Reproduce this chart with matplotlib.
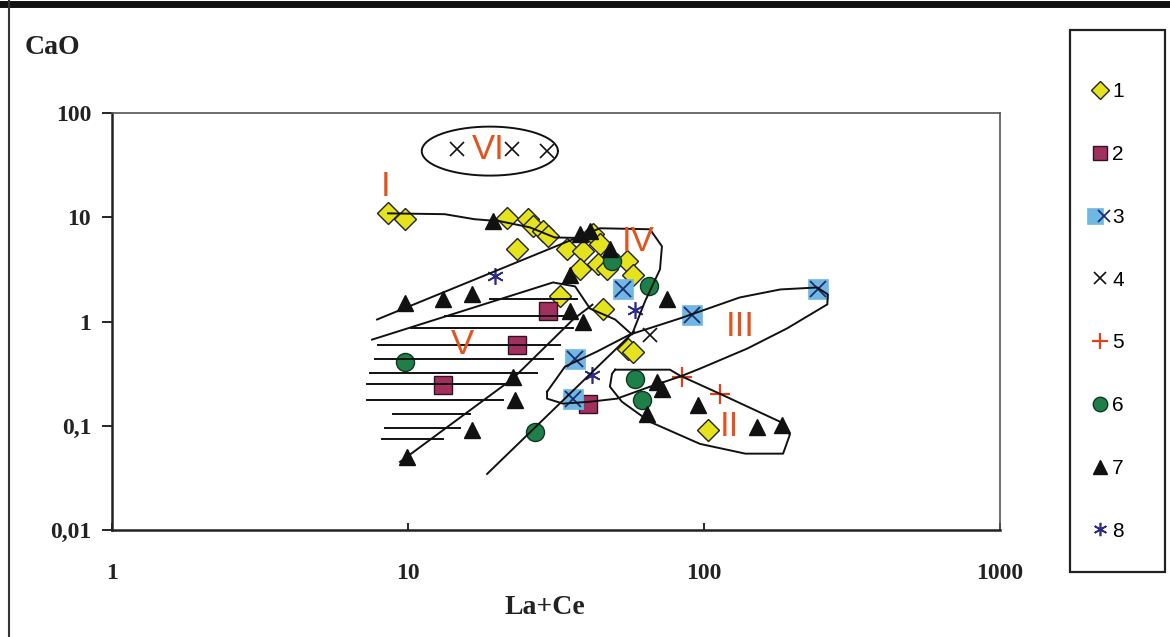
import numpy as np
import matplotlib
matplotlib.use("Agg")
import matplotlib.pyplot as plt
from matplotlib.lines import Line2D
from matplotlib.patches import Rectangle
from matplotlib.legend_handler import HandlerTuple

# ---------------- data (La+Ce, CaO) ----------------
s1_x = [8.56, 9.77, 21.6, 25.4, 26.4, 28.6, 29.7, 23.3, 34.4, 39.0, 42.2, 44.5,
        38.1, 43.9, 47.0, 55.0, 57.6, 32.6, 45.6, 55.4, 57.6, 103]
s1_y = [10.9, 9.6, 9.8, 9.6, 8.2, 7.3, 6.6, 5.0, 5.0, 4.7, 6.9, 5.5,
        3.2, 3.6, 3.2, 3.8, 2.8, 1.74, 1.33, 0.55, 0.51, 0.092]

s2_x = [29.7, 23.3, 13.1, 40.5]
s2_y = [1.25, 0.60, 0.248, 0.163]

s3_x = [36.7, 36.0, 53.2, 91.0, 243]
s3_y = [0.44, 0.18, 2.07, 1.15, 2.07]

s4_x = [14.6, 22.5, 29.5, 65.7]
s4_y = [45.0, 45.0, 43.0, 0.75]

s5_x = [84.3, 113]
s5_y = [0.296, 0.203]

s6_x = [9.77, 26.9, 48.7, 65.0, 58.5, 61.8]
s6_y = [0.41, 0.0875, 3.78, 2.2, 0.283, 0.178]

s7_x = [9.77, 13.1, 16.5, 19.4, 22.6, 23.0, 16.5, 9.9, 35.3, 39.0, 38.1, 41.2,
        48.0, 35.3, 75.0, 69.4, 72.0, 64.2, 95.5, 151, 183]
s7_y = [1.49, 1.66, 1.82, 9.2, 0.296, 0.178, 0.092, 0.050, 1.25, 1.0, 6.9, 7.3,
        5.0, 2.8, 1.66, 0.265, 0.227, 0.13, 0.159, 0.098, 0.102]

s8_x = [19.7, 58.5, 42.0]
s8_y = [2.71, 1.28, 0.31]

legend_labels = ["1", "2", "3", "4", "5", "6", "7", "8"]
x_ticks = [1, 10, 100, 1000]
x_ticklabels = ["1", "10", "100", "1000"]
y_ticks = [0.01, 0.1, 1, 10, 100]
y_ticklabels = ["0,01", "0,1", "1", "10", "100"]

# ---------------- annotation outlines (data coords) ----------------
curve_I_x = [8.56, 13.3, 16.8, 20.5, 25.8, 31.3, 41.2]
curve_I_y = [10.9, 10.7, 9.57, 9.15, 8.0, 6.4, 6.3]

field_IV_x = [7.86, 44.5, 65.7, 72.1, 71.0, 63.2, 57.1, 50.1, 41.2, 36.7, 30.9, 7.56]
field_IV_y = [1.045, 7.84, 7.67, 5.26, 3.16, 1.56, 0.75, 1.045, 1.33, 2.17, 2.37, 0.67]

line_C_x = [9.40, 22.6, 36.1, 42.0]
line_C_y = [0.045, 0.283, 1.045, 1.45]

line_D_x = [18.5, 58.0]
line_D_y = [0.0345, 0.80]

field_III_x = [29.5, 33.9, 43.5, 56.2, 82.9, 132, 181, 241, 262, 261, 191, 140,
               96.9, 82.9, 65.7, 50.8, 41.2, 33.4, 29.5, 29.5]
field_III_y = [0.212, 0.369, 0.515, 0.75, 1.07, 1.70, 2.03, 2.12, 1.82, 1.46, 0.86, 0.55,
               0.353, 0.296, 0.237, 0.182, 0.170, 0.163, 0.182, 0.212]

field_II_x = [50.1, 76.7, 82.9, 113, 181, 195, 185, 138, 96.9, 65.7, 52.8, 48.1, 48.9, 50.1]
field_II_y = [0.345, 0.345, 0.303, 0.203, 0.109, 0.082, 0.054, 0.054, 0.067, 0.109, 0.170,
              0.237, 0.316, 0.345]

ell_VI_center = (18.9, 43.1)      # (La+Ce, CaO)
ell_VI_half_dec = (0.230, 0.235)  # half-axes in decades

hatch_y = [1.63, 1.12, 0.857, 0.60, 0.44, 0.323, 0.253, 0.178, 0.130, 0.0957, 0.075]
hatch_x0 = [18.9, 13.3, 10.2, 7.92, 7.74, 7.44, 7.27, 7.27, 8.90, 8.36, 8.17]
hatch_x1 = [37.2, 36.1, 36.1, 32.6, 30.9, 27.3, 23.9, 20.9, 16.2, 15.0, 13.1]

field_labels = ["I", "VI", "IV", "III", "II", "V"]
field_label_x = [8.4, 18.6, 59.8, 132, 122, 15.3]
field_label_y = [19.9, 45.0, 5.88, 0.895, 0.098, 0.60]

# ---------------- figure ----------------
W, H = 1170, 637
fig = plt.figure(figsize=(W / 100, H / 100), dpi=100)
fig.patch.set_facecolor("white")
ax = fig.add_axes([112 / W, 1 - 530 / H, 888 / W, 417 / H])
ax.set_xscale("log")
ax.set_yscale("log")
ax.set_xlim(1, 1000)
ax.set_ylim(0.01, 100)

lc = "#111111"
lw = 1.4

# annotation lines (drawn above markers as in the original)
ax.plot(curve_I_x, curve_I_y, color=lc, lw=lw, zorder=5)
ax.plot(field_IV_x, field_IV_y, color=lc, lw=lw, zorder=5)
ax.plot(line_C_x, line_C_y, color=lc, lw=lw, zorder=5)
ax.plot(line_D_x, line_D_y, color=lc, lw=lw, zorder=5)
ax.plot(field_III_x, field_III_y, color=lc, lw=lw, zorder=5)
ax.plot(field_II_x, field_II_y, color=lc, lw=lw, zorder=5)
t = np.linspace(0, 2 * np.pi, 200)
ex = 10 ** (np.log10(ell_VI_center[0]) + ell_VI_half_dec[0] * np.cos(t))
ey = 10 ** (np.log10(ell_VI_center[1]) + ell_VI_half_dec[1] * np.sin(t))
ax.plot(ex, ey, color=lc, lw=lw, zorder=5)
for yy, x0, x1 in zip(hatch_y, hatch_x0, hatch_x1):
    ax.plot([x0, x1], [yy, yy], color=lc, lw=lw, zorder=5)

# markers
yellow = "#E5E21E"
magenta = "#A2305E"
lblue = "#70B8E2"
navy = "#1C2A78"
red = "#E0401C"
green = "#1E8048"
purple = "#2E2A8A"

h1, = ax.plot(s1_x, s1_y, ls="none", marker="D", ms=11, mfc=yellow, mec="#222222", mew=1.0, zorder=3)
h2, = ax.plot(s2_x, s2_y, ls="none", marker="s", ms=13, mfc=magenta, mec="#331122", mew=1.0, zorder=3)
h3a, = ax.plot(s3_x, s3_y, ls="none", marker="s", ms=15, mfc=lblue, mec=lblue, mew=0.5, zorder=3)
h3b, = ax.plot(s3_x, s3_y, ls="none", marker="x", ms=11, mec=navy, mew=1.3, zorder=3)
h4, = ax.plot(s4_x, s4_y, ls="none", marker="x", ms=10, mec="#111111", mew=1.2, zorder=3)
h5, = ax.plot(s5_x, s5_y, ls="none", marker="+", ms=14, mec=red, mew=1.6, zorder=3)
h6, = ax.plot(s6_x, s6_y, ls="none", marker="o", ms=13, mfc=green, mec="#103820", mew=1.0, zorder=3)
h7, = ax.plot(s7_x, s7_y, ls="none", marker="^", ms=12, mfc="#111111", mec="#111111", zorder=3)
h8, = ax.plot(s8_x, s8_y, ls="none", marker=(6, 2, 0), ms=12, mec=purple, mew=1.2, zorder=3)

# field labels
for lab, fx, fy in zip(field_labels, field_label_x, field_label_y):
    ax.text(fx, fy, lab, color="#E2531E", fontsize=25, family="Liberation Sans",
            ha="center", va="center", zorder=6)

# axes styling
serif = "Liberation Serif"
ax.set_xticks(x_ticks)
ax.set_xticklabels(x_ticklabels)
ax.set_yticks(y_ticks)
ax.set_yticklabels(y_ticklabels)
ax.minorticks_off()
for lbl in ax.get_xticklabels() + ax.get_yticklabels():
    lbl.set_fontfamily(serif)
    lbl.set_fontweight("bold")
    lbl.set_fontsize(17)
    lbl.set_color("#222222")
ax.tick_params(axis="x", direction="in", length=5, width=1.2, pad=24)
ax.tick_params(axis="y", direction="out", length=7, width=1.2, pad=8)
for s in ["left", "bottom"]:
    ax.spines[s].set_color("#222222")
    ax.spines[s].set_linewidth(1.8)
for s in ["top", "right"]:
    ax.spines[s].set_color("#555555")
    ax.spines[s].set_linewidth(1.2)

fig.text(25 / W, 1 - 47 / H, "CaO", family=serif, fontweight="bold", fontsize=20,
         ha="left", va="center", color="#222222")
fig.text(545 / W, 1 - 607 / H, "La+Ce", family=serif, fontweight="bold", fontsize=20,
         ha="center", va="center", color="#222222")

# legend box
fig.add_artist(Rectangle((1070 / W, 1 - 572 / H), 95 / W, 542 / H, transform=fig.transFigure,
                         fill=False, edgecolor="#222222", lw=1.6))
leg = fig.legend([h1, h2, (h3a, h3b), h4, h5, h6, h7, h8], legend_labels,
                 handler_map={tuple: HandlerTuple(ndivide=None)},
                 loc="upper left", bbox_to_anchor=(1080 / W, 1 - 72 / H),
                 frameon=False, handlelength=0.9, handletextpad=0.15,
                 labelspacing=2.1, borderpad=0, markerscale=0.8,
                 prop={"family": "Liberation Sans", "size": 15})

# outer frame of the picture
fig.add_artist(Line2D([0, 1], [1 - 4 / H, 1 - 4 / H], transform=fig.transFigure,
                      color="#111111", lw=5))
fig.add_artist(Line2D([9 / W, 9 / W], [0, 1], transform=fig.transFigure,
                      color="#333333", lw=1.5))

fig.savefig("out.png", dpi=100)
